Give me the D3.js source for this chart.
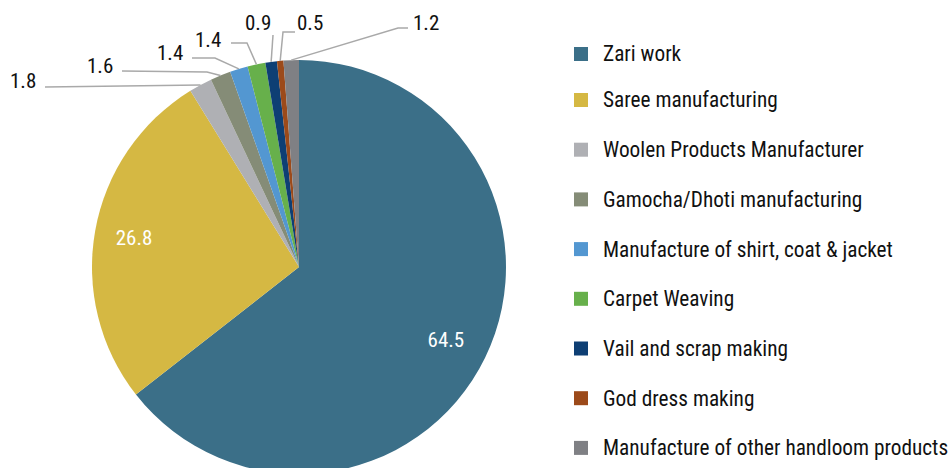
<!DOCTYPE html>
<html lang="en">
<head>
    <meta charset="UTF-8">
    <title>Handloom sector share pie</title>
    <script src="https://cdn.jsdelivr.net/npm/d3@7"></script>
    <style>
        body { margin: 0; background: #fff; }
        text { font-family: "Liberation Sans Narrow", "Roboto Condensed", "Liberation Sans", sans-serif; }
    </style>
</head>
<body>
<svg width="951" height="468"></svg>
<script>
    // data
    const categories = ["Zari work", "Saree manufacturing", "Woolen Products Manufacturer",
        "Gamocha/Dhoti manufacturing", "Manufacture of shirt, coat & jacket", "Carpet Weaving",
        "Vail and scrap making", "God dress making", "Manufacture of other handloom products"]
    const shares = [64.5, 26.8, 1.8, 1.6, 1.4, 1.4, 0.9, 0.5, 1.2]
    const colors = ["#3b6f88", "#d5b843", "#afb0b4", "#858c77", "#5397d1", "#67b04b", "#0e3f74", "#9c4a1a", "#7f8084"]

    // where Excel put the outside labels (text x / baseline, then leader start and elbow)
    const outsideLabels = [
        null, null,
        {x: 10, y: 88, pts: [[45, 87]]},
        {x: 87, y: 73, pts: [[122, 71], [207, 72]]},
        {x: 157, y: 60, pts: [[192, 58], [215, 58]]},
        {x: 195, y: 47, pts: [[231, 43], [247, 43]]},
        {x: 245, y: 30, pts: [[273, 35]]},
        {x: 297, y: 30, pts: [[295, 32], [283, 32]]},
        {x: 413, y: 30, pts: [[408, 28], [398, 28]]}
    ]

    let svg = d3.select("svg")
    const cx = 299, cy = 267, r = 207

    const items = categories.map((c, i) => ({name: c, value: shares[i], i: i}))
    const pie = d3.pie().value(d => d.value).sort(null)
    const arcs = pie(items)
    const arc = d3.arc().innerRadius(0).outerRadius(r)
    const labelArc = d3.arc().innerRadius(r * 0.8).outerRadius(r * 0.8)

    let g = svg.append("g").attr("transform", `translate(${cx},${cy})`)

    g.selectAll("path.slice")
        .data(arcs)
        .enter()
        .append("path")
        .attr("class", "slice")
        .attr("d", arc)
        .attr("fill", d => colors[d.data.i])

    // inside labels for the two big slices
    g.selectAll("text.inner")
        .data(arcs.filter(d => d.data.value > 10))
        .enter()
        .append("text")
        .attr("class", "inner")
        .attr("x", d => labelArc.centroid(d)[0] - 2)
        .attr("y", d => labelArc.centroid(d)[1])
        .attr("dy", "0.35em")
        .attr("text-anchor", "middle")
        .attr("fill", "#fff")
        .style("font-size", "21px")
        .text(d => d.data.value)

    // outside labels + leader lines
    let small = arcs.filter(d => outsideLabels[d.data.i])
    svg.append("g")
        .selectAll("polyline")
        .data(small)
        .enter()
        .append("polyline")
        .attr("fill", "none")
        .attr("stroke", "#a9a9a9")
        .attr("stroke-width", 1.5)
        .attr("points", d => {
            let a = (d.startAngle + d.endAngle) / 2
            let end = [cx + r * Math.sin(a), cy - r * Math.cos(a)]
            return outsideLabels[d.data.i].pts.concat([end]).map(p => p.join(",")).join(" ")
        })

    svg.append("g")
        .selectAll("text")
        .data(small)
        .enter()
        .append("text")
        .attr("x", d => outsideLabels[d.data.i].x)
        .attr("y", d => outsideLabels[d.data.i].y)
        .attr("fill", "#111")
        .style("font-size", "21px")
        .text(d => d.data.value)

    // legend (first row sits a little tighter than the rest)
    let legendY = i => i === 0 ? 54 : 100 + (i - 1) * 49.7
    let legend = svg.append("g")
        .selectAll("g")
        .data(items)
        .enter()
        .append("g")
        .attr("transform", (d, i) => `translate(574,${legendY(i)})`)

    legend.append("rect")
        .attr("x", 0).attr("y", -7)
        .attr("width", 14).attr("height", 14)
        .attr("fill", d => colors[d.i])

    legend.append("text")
        .attr("x", 29)
        .attr("dy", "0.35em")
        .attr("fill", "#111")
        .style("font-size", "21.3px")
        .text(d => d.name)
</script>
</body>
</html>
